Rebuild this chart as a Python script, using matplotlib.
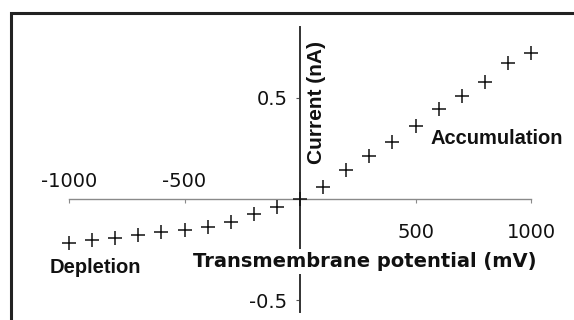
import matplotlib.pyplot as plt
from matplotlib.patches import Rectangle

# potential (mV) and current (nA)
potential = [-1000, -900, -800, -700, -600, -500, -400, -300, -200, -100, 0,
             100, 200, 300, 400, 500, 600, 700, 800, 900, 1000]
current = [-0.218, -0.203, -0.193, -0.178, -0.163, -0.153, -0.139, -0.114, -0.074, -0.040, 0.0,
           0.059, 0.144, 0.213, 0.282, 0.361, 0.446, 0.510, 0.579, 0.673, 0.723]

xticks = [-1000, -500, 500, 1000]
yticks = [-0.5, 0.5]

fig = plt.figure(figsize=(5.74, 3.2), dpi=100)
ax = fig.add_axes([0, 0, 1, 1])
ax.set_xlim(-1299, 1186)
ax.set_ylim(-0.599, 0.985)

ax.plot(potential, current, linestyle="none", marker="+", markersize=9.5,
        markeredgewidth=1.1, color="#111111", zorder=4)

# axes crossing at the origin
ax.spines["top"].set_visible(False)
ax.spines["right"].set_visible(False)
ax.spines["left"].set_position("zero")
ax.spines["bottom"].set_position("zero")
ax.spines["left"].set_bounds(-0.56, 0.85)
ax.spines["bottom"].set_bounds(-1000, 1000)
ax.spines["left"].set_color("#333333")
ax.spines["left"].set_linewidth(1.4)
ax.spines["bottom"].set_color("#8a8a8a")
ax.spines["bottom"].set_linewidth(1.0)

ax.set_xticks(xticks)
ax.set_xticklabels([])
ax.tick_params(axis="x", length=3, width=0.8, color="#8a8a8a", direction="out")
ax.set_yticks(yticks)
ax.set_yticklabels([str(v) for v in yticks])
ax.tick_params(axis="y", length=3, width=0.8, color="#555555", direction="out",
               pad=6, labelsize=14, labelcolor="#111111")

# negative labels sit above the axis, positive ones below
for t in xticks:
    dy = 12.5 if t < 0 else -23.8
    ax.annotate(str(t), (t, 0), xytext=(0, dy), textcoords="offset points",
                ha="center", va="center", fontsize=14, color="#111111")

ax.text(70, 0.48, "Current (nA)", rotation=90, ha="center", va="center",
        fontsize=15, fontweight="bold", family="Liberation Sans", color="#111111")
ax.text(853, 0.30, "Accumulation", ha="center", va="center", fontsize=14.5,
        fontweight="bold", family="Liberation Sans", color="#111111")
ax.text(-885, -0.34, "Depletion", ha="center", va="center", fontsize=14.5,
        fontweight="bold", family="Liberation Sans", color="#111111")
ax.text(279, -0.31, "Transmembrane potential (mV)", ha="center", va="center",
        fontsize=14, fontweight="bold", color="#111111", zorder=5,
        bbox=dict(facecolor="white", edgecolor="none", pad=2))

# outer frame, cut off at the right and bottom
fig.patches.append(Rectangle((11 / 574, -0.2), 1.5, 1.2 - 13 / 320, transform=fig.transFigure,
                             fill=False, linewidth=2.2, edgecolor="#222222"))

fig.savefig("out.png", dpi=100)
